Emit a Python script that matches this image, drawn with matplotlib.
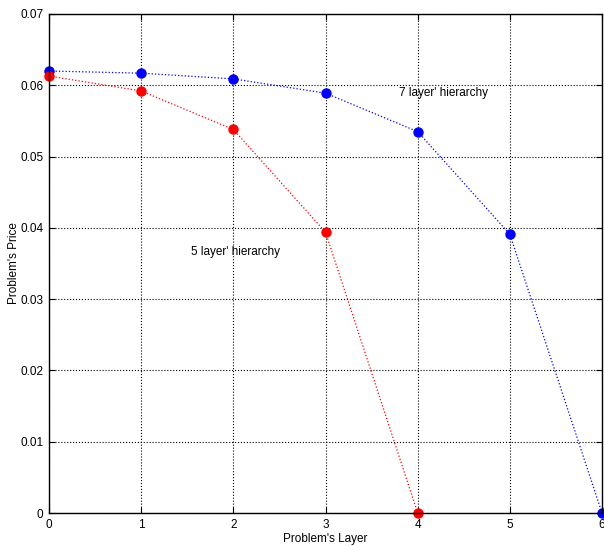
import matplotlib
matplotlib.use("Agg")
import matplotlib.pyplot as plt

layers7 = [0, 1, 2, 3, 4, 5, 6]
price7 = [0.0620, 0.0617, 0.0609, 0.0589, 0.0535, 0.0391, 0.0]
layers5 = [0, 1, 2, 3, 4]
price5 = [0.0613, 0.0592, 0.0538, 0.0394, 0.0]

plt.rcParams['font.family'] = ['Liberation Sans', 'DejaVu Sans']
fig = plt.figure(figsize=(6.04, 5.46), dpi=100)
ax = fig.add_axes([49/604, 1 - 513/546, (602-49)/604, (513-14)/546])

ax.plot(layers7, price7, linestyle=':', color='blue', linewidth=0.9,
        marker='o', markersize=6.5, markerfacecolor='blue', markeredgecolor='blue')
ax.plot(layers5, price5, linestyle=':', color='red', linewidth=0.9,
        marker='o', markersize=6.5, markerfacecolor='red', markeredgecolor='red')

ax.set_xlim(0, 6)
ax.set_ylim(0, 0.07)
ax.set_xticks(range(7))
ax.set_yticks([0, 0.01, 0.02, 0.03, 0.04, 0.05, 0.06, 0.07])
ax.set_yticklabels(['0', '0.01', '0.02', '0.03', '0.04', '0.05', '0.06', '0.07'])
ax.grid(True, linestyle=':', color='black', linewidth=0.8)
ax.set_axisbelow(True)
ax.tick_params(direction='in', length=4, labelsize=8.5, top=True, right=True, pad=4)
for s in ax.spines.values():
    s.set_linewidth(1.0)

ax.set_xlabel("Problem's Layer", fontsize=8.5, labelpad=2)
ax.set_ylabel("Problem's Price", fontsize=8.5, labelpad=0)

ax.text(3.80, 0.0589, "7 layer' hierarchy", fontsize=8.5, va='center', ha='left')
ax.text(1.54, 0.0366, "5 layer' hierarchy", fontsize=8.5, va='center', ha='left')

for c in ax.lines:
    c.set_clip_on(False)

fig.savefig("out.png", dpi=100)
